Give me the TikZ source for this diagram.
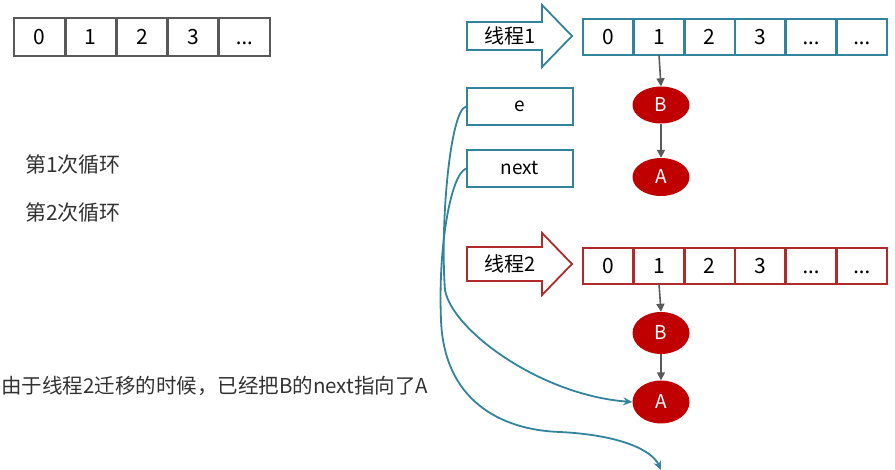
\documentclass[tikz,border=0pt]{standalone}
\usepackage{fontspec}
\setmainfont{Noto Sans CJK SC}
\newfontfamily\latinf{Noto Sans}
\usetikzlibrary{arrows.meta,shapes.geometric}
\definecolor{tealc}{RGB}{49,132,155}
\definecolor{redc}{RGB}{176,42,42}
\definecolor{grayc}{RGB}{89,89,89}
\definecolor{nodered}{RGB}{192,0,0}
\definecolor{txtc}{RGB}{50,50,50}
\newcommand\dotsx{\vphantom{0}{\latinf ...}}
\begin{document}
\begin{tikzpicture}[x=1pt,y=-1pt,
  cellbase/.style={draw, line width=2.8pt, minimum height=36pt, inner sep=0pt, outer sep=0pt, fill=white, text=black, font=\fontsize{21}{24}\selectfont},
  cellg/.style={cellbase, draw=grayc, minimum width=51.2pt, minimum height=38pt},
  cellt/.style={cellbase, draw=tealc, minimum width=50.67pt},
  cellr/.style={cellbase, draw=redc, minimum width=50.67pt},
  ptrbox/.style={draw=tealc, line width=1.8pt, minimum width=106pt, minimum height=37pt, inner sep=0pt, text=black, font=\fontsize{19}{22}\selectfont},
  ent/.style={ellipse, fill=nodered, minimum width=57pt, inner sep=0pt, text=white, font=\fontsize{19}{22}\selectfont},
  darr/.style={draw=grayc, line width=1.6pt, -{Triangle[length=8pt,width=8pt]}},
  conn/.style={draw=tealc, line width=1.8pt, -{Stealth[length=9pt,width=8pt]}},
  lbl/.style={text=txtc, inner sep=0pt, font=\fontsize{21}{24}\selectfont},
  thrlbl/.style={text=black, inner sep=0pt, font=\fontsize{20}{22}\selectfont},
  thr/.style={line width=1.8pt, fill=white, line join=miter}
]
\useasboundingbox (0,0) rectangle (895,470);

% top-left array
\foreach \v [count=\i from 0] in {0,1,2,3,\dotsx}
  \node[cellg] (g\i) at ({14+51.2*(\i+0.5)},37) {\v};

% thread 1
\draw[thr, draw=tealc] (467,22) -- (542,22) -- (542,5) -- (572,36) -- (542,67) -- (542,50) -- (467,50) -- cycle;
\node[thrlbl] (th1) at (510,36) {线程1};
\foreach \v [count=\i from 0] in {0,1,2,3,\dotsx,\dotsx}
  \node[cellt] (a\i) at ({583+50.67*(\i+0.5)},37) {\v};
\node[ent, minimum height=37pt] (B1) at (661,105) {B};
\node[ent, minimum height=38pt] (A1) at (661,177) {A};
\draw[darr] (a1.south) -- (B1.north);
\draw[darr] (B1.south) -- (A1.north);

% e / next
\node[ptrbox] (e) at (520,106.5) {e};
\node[ptrbox] (nx) at (520,168.5) {next};

% labels
\node[lbl, anchor=west] (l1) at (25,165) {第1次循环};
\node[lbl, anchor=west] (l2) at (25,213) {第2次循环};
\node[lbl, anchor=west, font=\fontsize{20.5}{24}\selectfont] (l3) at (1,386) {由于线程2迁移的时候，已经把B的next指向了A};

% thread 2
\draw[thr, draw=redc] (467,247) -- (542,247) -- (542,233) -- (572,264) -- (542,295) -- (542,281) -- (467,281) -- cycle;
\node[thrlbl] (th2) at (510,264) {线程2};
\foreach \v [count=\i from 0] in {0,1,2,3,\dotsx,\dotsx}
  \node[cellr] (b\i) at ({583+50.67*(\i+0.5)},266) {\v};
\node[ent, minimum height=42pt] (B2) at (661,333) {B};
\node[ent, minimum height=43pt] (A2) at (661,402) {A};
\draw[darr] (b1.south) -- (B2.north);
\draw[darr] (B2.south) -- (A2.north);

% connectors
\coordinate (nul) at (661,470);
\draw[conn] (e.west) .. controls (450,110) and (440,225) .. (445,290)
  .. controls (452,330) and (540,395) .. (A2.west);
\draw[conn] (nx.west) .. controls (450,175) and (438,250) .. (441,320)
  .. controls (444,400) and (500,430) .. (560,432)
  .. controls (620,435) and (652,450) .. (nul);
\end{tikzpicture}
\end{document}
